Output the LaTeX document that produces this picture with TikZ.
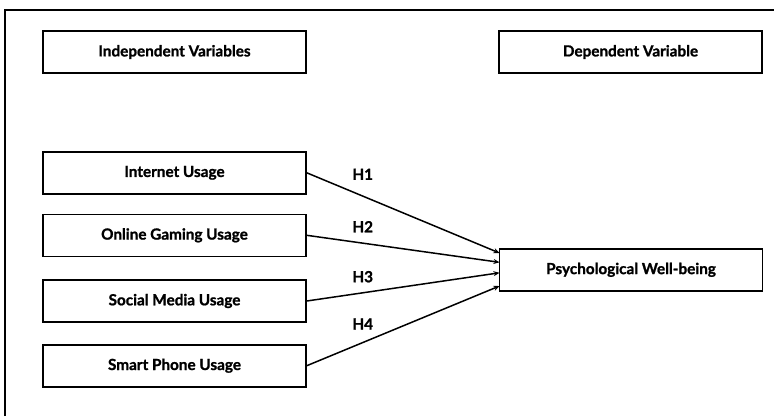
\documentclass[tikz,border=0pt]{standalone}
\usepackage{fontspec}
\setmainfont{Lato}[BoldFeatures={FakeBold=1.2}]
\usetikzlibrary{arrows.meta}
\begin{document}
\begin{tikzpicture}[x=1pt,y=-1pt,
  varbox/.style={draw, line width=1.6pt, minimum width=263pt, minimum height=42pt, inner sep=0pt,
    font=\fontsize{15.3}{17}\selectfont\bfseries},
  link/.style={line width=1.5pt, -{Stealth[length=6pt,width=5pt]}},
  hlab/.style={font=\fontsize{15.3}{17}\selectfont\bfseries}]
\useasboundingbox (0,0) rectangle (774,416);
\draw[line width=2.2pt] (5,416) -- (5,10) -- (774,10);
\node[varbox] (iv) at (174.5,52) {Independent Variables};
\node[varbox] (dv) at (630.5,52) {Dependent Variable};
\node[varbox] (iu) at (174.5,172.8) {Internet Usage};
\node[varbox] (og) at (174.5,235.3) {Online Gaming Usage};
\node[varbox] (sm) at (174.5,301) {Social Media Usage};
\node[varbox] (sp) at (174.5,365.7) {Smart Phone Usage};
\node[varbox] (pw) at (631,269.8) {Psychological Well-being};
\coordinate (e1) at (499.5,253);
\coordinate (e2) at (499.5,262.3);
\coordinate (e3) at (499.5,272.8);
\coordinate (e4) at (499.5,286);
\draw[link] (iu.east) -- (e1);
\draw[link] (og.east) -- (e2);
\draw[link] (sm.east) -- (e3);
\draw[link] (sp.east) -- (e4);
\node[hlab] (h1) at (362.7,174.3) {H1};
\node[hlab] (h2) at (362.7,226.7) {H2};
\node[hlab] (h3) at (362.7,276.7) {H3};
\node[hlab] (h4) at (362.7,324) {H4};
\end{tikzpicture}
\end{document}
